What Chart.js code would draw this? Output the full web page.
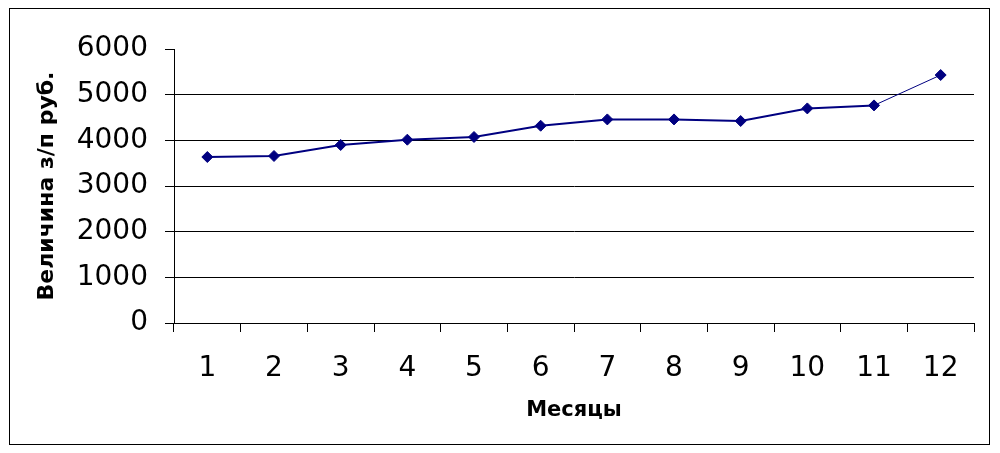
<!DOCTYPE html>
<html>
<head>
<meta charset="utf-8">
<script src="https://cdn.jsdelivr.net/npm/chart.js@4"></script>
<style>
  html, body { margin: 0; padding: 0; background: #fff; }
  .chart-box {
    position: absolute; left: 9px; top: 8px;
    width: 981px; height: 437px; box-sizing: border-box;
    border: 1px solid #000; background: #fff;
  }
</style>
</head>
<body>
<div class="chart-box">
  <canvas id="chart" width="979" height="435"></canvas>
</div>
<script>
const months = ['1', '2', '3', '4', '5', '6', '7', '8', '9', '10', '11', '12'];
const salary = [3635, 3657, 3898, 4014, 4073, 4320, 4458, 4458, 4423, 4699, 4765, 5430];
const yTicks = [0, 1000, 2000, 3000, 4000, 5000, 6000];
const xTitle = 'Месяцы';
const yTitle = 'Величина з/п руб.';

const navy = '#000080';

new Chart(document.getElementById('chart'), {
  type: 'line',
  data: {
    labels: months,
    datasets: [{
      data: salary,
      borderColor: navy,
      backgroundColor: navy,
      borderWidth: 2,
      tension: 0,
      pointStyle: 'rectRot',
      pointRadius: 5.5,
      pointBorderWidth: 1,
      pointBorderColor: navy,
      pointBackgroundColor: navy,
      segment: {
        borderWidth: ctx => ctx.p1DataIndex === salary.length - 1 ? 1 : 2,
      },
    }],
  },
  options: {
    responsive: false,
    animation: false,
    events: [],
    layout: { padding: { left: 0, right: 15, top: 40, bottom: 0 } },
    plugins: { legend: { display: false }, tooltip: { enabled: false } },
    scales: {
      x: {
        offset: true,
        grid: { offset: true, drawOnChartArea: false, drawTicks: true, tickLength: 9, color: '#000', tickColor: '#000' },
        border: { display: true, color: '#000', width: 1 },
        ticks: { color: '#000', padding: 20, font: { family: 'DejaVu Sans', size: 28 }, maxRotation: 0, autoSkip: false },
        title: { display: true, text: xTitle, color: '#000', padding: { top: 0, bottom: 21 }, font: { family: 'DejaVu Sans', size: 21, weight: 'bold' } },
        afterFit: scale => { scale.height = 121; },
      },
      y: {
        min: 0,
        max: 6000,
        afterBuildTicks: scale => { scale.ticks = yTicks.map(v => ({ value: v })); },
        grid: {
          drawTicks: true, tickLength: 9,
          color: ctx => (ctx.tick && ctx.tick.value === 6000) ? 'rgba(0,0,0,0)' : '#000',
          tickColor: '#000',
        },
        border: { display: true, color: '#000', width: 1 },
        ticks: { color: '#000', padding: 17, font: { family: 'DejaVu Sans', size: 28 }, callback: v => String(v) },
        title: { display: true, text: yTitle, color: '#000', padding: { top: 24, bottom: 0 }, font: { family: 'DejaVu Sans', size: 22, weight: 'bold' } },
        afterFit: scale => { scale.width = 164; },
      },
    },
  },
});
</script>
</body>
</html>
